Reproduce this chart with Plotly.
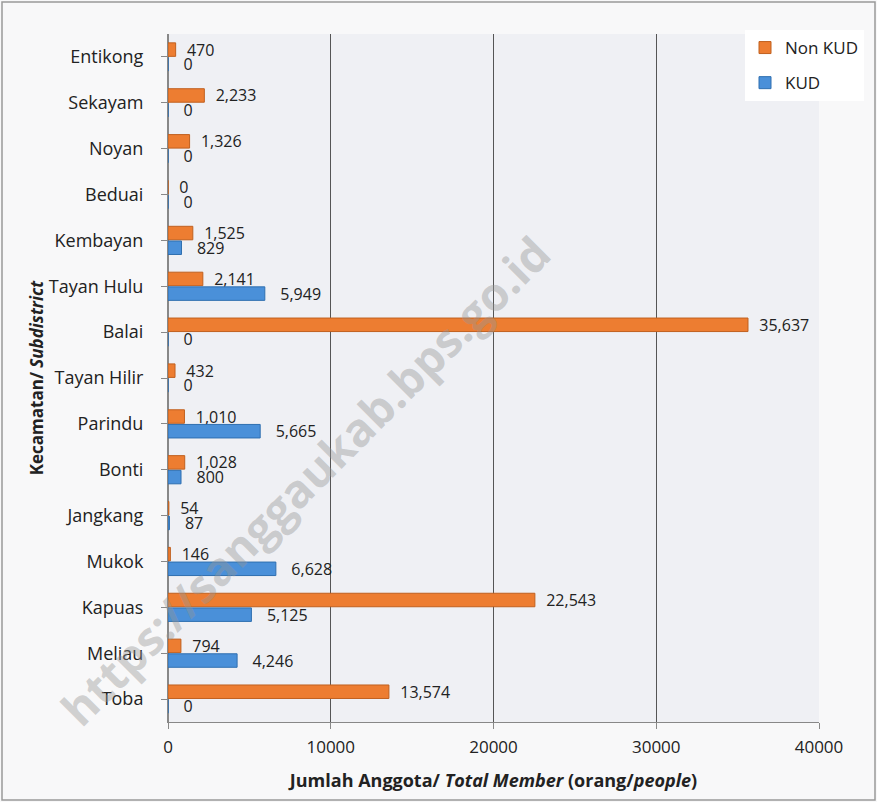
import plotly.graph_objects as go

categories = ["Entikong", "Sekayam", "Noyan", "Beduai", "Kembayan", "Tayan Hulu", "Balai",
              "Tayan Hilir", "Parindu", "Bonti", "Jangkang", "Mukok", "Kapuas", "Meliau", "Toba"]
non_kud = [470, 2233, 1326, 0, 1525, 2141, 35637, 432, 1010, 1028, 54, 146, 22543, 794, 13574]
kud = [0, 0, 0, 0, 829, 5949, 0, 0, 5665, 800, 87, 6628, 5125, 4246, 0]
x_ticks = [0, 10000, 20000, 30000, 40000]

W, H = 877, 802
L, R, T, B = 168, 58, 34, 80
pw, ph = W - L - R, H - T - B

font_family = "'Open Sans', Lato, sans-serif"
NB = "\u00a0"

fig = go.Figure()
fig.add_trace(go.Bar(
    y=categories, x=non_kud, orientation="h", name="Non KUD",
    legendgroup="a",
    marker=dict(color="#ed7d31", line=dict(color="#c0601f", width=1)),
    text=[NB * 2 + f"{v:,}" for v in non_kud], textposition="outside", cliponaxis=False,
    textfont=dict(size=16, color="#222"),
))
fig.add_trace(go.Bar(
    y=categories, x=kud, orientation="h", name="KUD",
    legendgroup="b",
    marker=dict(color="#4a90d9", line=dict(color="#2f6fb0", width=1)),
    text=[NB * 3 + f"{v:,}" for v in kud], textposition="outside", cliponaxis=False,
    textfont=dict(size=16, color="#222"),
))

fig.update_layout(
    width=W, height=H,
    margin=dict(l=L, r=R, t=T, b=B, autoexpand=False),
    barmode="group", bargap=0.36, bargroupgap=0.08,
    uniformtext=dict(minsize=16, mode="show"),
    paper_bgcolor="#f8f8f9", plot_bgcolor="#eff0f4",
    font=dict(family=font_family, size=17, color="#222"),
    legend=dict(x=(745 - L) / pw, y=1 - (30 - T) / ph, xanchor="left", yanchor="top",
                bgcolor="white", font=dict(size=17), traceorder="grouped",
                itemwidth=30, tracegroupgap=10),
    xaxis=dict(range=[0, 40000], tickvals=x_ticks, tickformat="d", automargin=False,
               showgrid=True, gridcolor="#555", gridwidth=1, zeroline=True,
               zerolinecolor="#888", linecolor="#888", showline=True,
               ticks="outside", tickcolor="#888", ticklen=6, ticklabelstandoff=4,
               tickfont=dict(size=17),
               title=dict(text="<b>Jumlah Anggota/ <i>Total Member</i> (orang/<i>people</i>)</b>",
                          font=dict(size=18), standoff=16)),
    yaxis=dict(autorange="reversed", categoryorder="array", categoryarray=categories,
               automargin=False,
               showline=True, linecolor="#888", ticks="outside", tickcolor="#888", ticklen=6,
               ticklabelstandoff=14,
               tickfont=dict(size=18),
               title=dict(text="<b>Kecamatan/ <i>Subdistrict</i></b>", font=dict(size=17), standoff=0)),
)

fig.add_annotation(
    text="<b>https://sanggaukab.bps.go.id</b>", x=(305 - L) / pw, y=1 - (480 - T) / ph,
    xref="paper", yref="paper", xanchor="center", yanchor="middle",
    showarrow=False, textangle=-45,
    font=dict(size=46, color="rgba(150,150,150,0.42)", family="'Open Sans', sans-serif"),
)

fig.add_shape(type="rect", xref="paper", yref="paper",
              x0=(2 - L) / pw, x1=(W - 2 - L) / pw,
              y0=1 - (H - 2 - T) / ph, y1=1 - (2 - T) / ph,
              line=dict(color="#999", width=1.5), fillcolor="rgba(0,0,0,0)", layer="below")

fig.write_html("out.html", config={"displayModeBar": False},
               post_script="document.body.style.margin='0';document.body.style.overflow='hidden';")
